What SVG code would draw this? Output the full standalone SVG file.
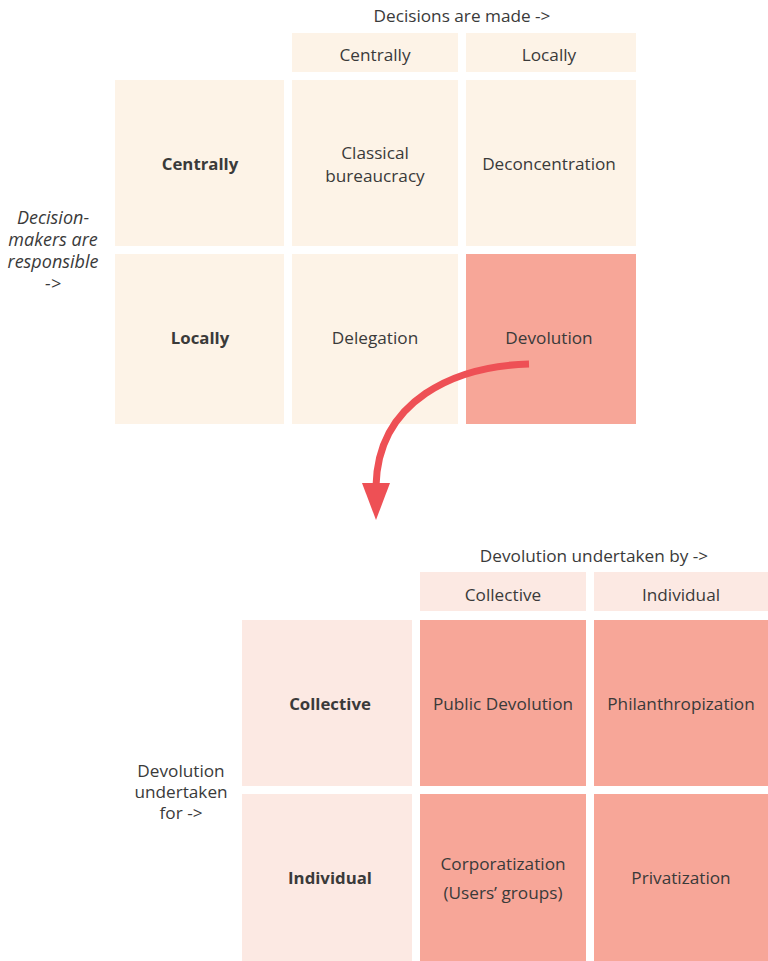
<svg xmlns="http://www.w3.org/2000/svg" width="768" height="961" viewBox="0 0 768 961">
  <defs>
    <style>
      text { font-family: "Open Sans", "Liberation Sans", sans-serif; font-size: 17.2px; fill: #3a3a3a; text-anchor: middle; dominant-baseline: central; }
      .b { font-weight: bold; font-size: 16.8px; }
      .i { font-style: italic; font-size: 18px; }
      .cream { fill: #fdf3e7; }
      .blush { fill: #fce9e3; }
      .salmon { fill: #f7a698; }
      .arrow { fill: none; stroke: #ee5055; stroke-width: 7; }
    </style>
  </defs>
  <rect width="768" height="961" fill="#ffffff"/>

  <!-- Upper matrix: where decisions are made vs. where decision-makers are responsible -->
  <g id="top-axis-x"><text x="462" y="15">Decisions are made -&gt;</text></g>
  <g id="top-axis-y">
    <text x="53" y="217" class="i">Decision-</text>
    <text x="53" y="239" class="i">makers are</text>
    <text x="53" y="261" class="i">responsible</text>
    <text x="53" y="283" class="i">-&gt;</text>
  </g>
  <g id="top-col-central"><rect class="cream" x="292" y="33" width="166" height="39"/><text x="375" y="54">Centrally</text></g>
  <g id="top-col-local"><rect class="cream" x="466" y="33" width="170" height="39"/><text x="549" y="54">Locally</text></g>
  <g id="top-row-central"><rect class="cream" x="115" y="80" width="169" height="166"/><text x="200" y="163" class="b">Centrally</text></g>
  <g id="top-row-local"><rect class="cream" x="115" y="254" width="169" height="170"/><text x="200" y="337" class="b">Locally</text></g>
  <g id="classical-bureaucracy"><rect class="cream" x="292" y="80" width="166" height="166"/><text x="375" y="152">Classical</text><text x="375" y="175">bureaucracy</text></g>
  <g id="deconcentration"><rect class="cream" x="466" y="80" width="170" height="166"/><text x="549" y="163">Deconcentration</text></g>
  <g id="delegation"><rect class="cream" x="292" y="254" width="166" height="170"/><text x="375" y="337">Delegation</text></g>
  <g id="devolution"><rect class="salmon" x="466" y="254" width="170" height="170"/><text x="549" y="337">Devolution</text></g>

  <!-- Connector from Devolution down to the lower matrix -->
  <g id="connectors">
    <path class="arrow" d="M529,364 C455,366 378,400 376,486"/>
    <polygon points="362,483 390,483 376,520" fill="#ee5055"/>
  </g>

  <!-- Lower matrix: who undertakes devolution vs. for whom -->
  <g id="bottom-axis-x"><text x="594" y="555">Devolution undertaken by -&gt;</text></g>
  <g id="bottom-axis-y">
    <text x="181" y="770">Devolution</text>
    <text x="181" y="791">undertaken</text>
    <text x="181" y="812">for -&gt;</text>
  </g>
  <g id="bottom-col-collective"><rect class="blush" x="420" y="572" width="166" height="39"/><text x="503" y="594">Collective</text></g>
  <g id="bottom-col-individual"><rect class="blush" x="594" y="572" width="174" height="39"/><text x="681" y="594">Individual</text></g>
  <g id="bottom-row-collective"><rect class="blush" x="242" y="620" width="170" height="166"/><text x="330" y="703" class="b">Collective</text></g>
  <g id="bottom-row-individual"><rect class="blush" x="242" y="794" width="170" height="167"/><text x="330" y="877" class="b">Individual</text></g>
  <g id="public-devolution"><rect class="salmon" x="420" y="620" width="166" height="166"/><text x="503" y="703">Public Devolution</text></g>
  <g id="philanthropization"><rect class="salmon" x="594" y="620" width="174" height="166"/><text x="681" y="703">Philanthropization</text></g>
  <g id="corporatization"><rect class="salmon" x="420" y="794" width="166" height="167"/><text x="503" y="863">Corporatization</text><text x="503" y="892">(Users’ groups)</text></g>
  <g id="privatization"><rect class="salmon" x="594" y="794" width="174" height="167"/><text x="681" y="877">Privatization</text></g>
</svg>
